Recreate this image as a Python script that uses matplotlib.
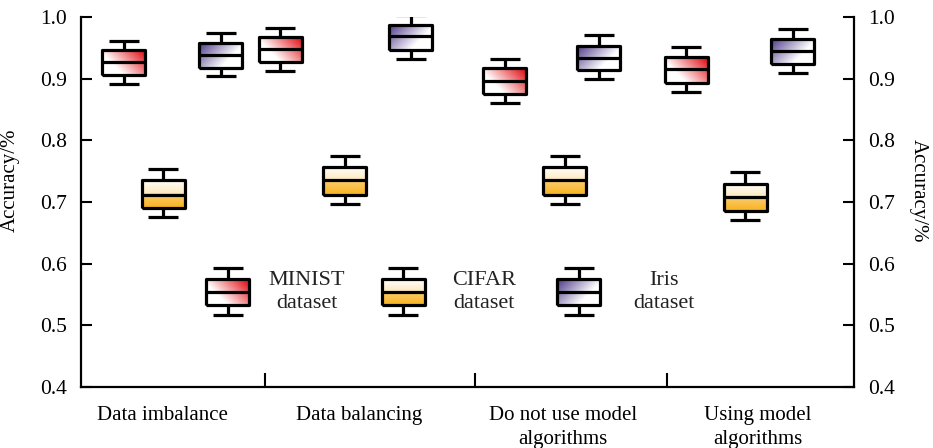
import numpy as np
import matplotlib.pyplot as plt
from matplotlib.colors import to_rgb

plt.rcParams['font.family'] = ['Liberation Serif', 'DejaVu Serif']
plt.rcParams['font.size'] = 15

categories = ['Data imbalance', 'Data balancing',
              'Do not use model\nalgorithms', 'Using model\nalgorithms']
series_names = ['MINIST\ndataset', 'CIFAR\ndataset', 'Iris\ndataset']

# lower whisker, Q1, median, Q3, upper whisker for each group
minist_stats = [[0.891, 0.906, 0.927, 0.947, 0.962],
                [0.913, 0.927, 0.948, 0.968, 0.983],
                [0.860, 0.875, 0.897, 0.917, 0.932],
                [0.878, 0.894, 0.916, 0.935, 0.951]]
cifar_stats = [[0.675, 0.690, 0.712, 0.736, 0.753],
               [0.696, 0.711, 0.735, 0.757, 0.774],
               [0.696, 0.711, 0.735, 0.757, 0.774],
               [0.670, 0.686, 0.708, 0.730, 0.748]]
iris_stats = [[0.904, 0.918, 0.939, 0.959, 0.975],
              [0.933, 0.947, 0.969, 0.988, 1.004],
              [0.899, 0.914, 0.934, 0.954, 0.971],
              [0.910, 0.924, 0.946, 0.965, 0.981]]

# layout (x axis runs 0..773)
minist_pos = [42.5, 199, 423.5, 605]
cifar_pos = [82, 263.5, 483.5, 664]
iris_pos = [139.5, 329.5, 517.5, 711.5]
group_edges = [184, 394, 586]
label_pos = [81, 278, 482, 677]
BOX_W = 43
CAP_W = 30

# key glyphs drawn inside the plot
key_x = [146.5, 322, 497.5]
key_text_x = [226, 403, 583]
key_stats = [0.517, 0.533, 0.554, 0.575, 0.592]

RED = to_rgb('#e3191f')
ORANGE = to_rgb('#f9b21e')
PURPLE = to_rgb('#5a4690')


def shade(rgb, fn, n=80):
    yy, xx = np.mgrid[0:1:n * 1j, 0:1:n * 1j]
    img = np.ones((n, n, 4))
    img[..., :3] = rgb
    img[..., 3] = np.clip(fn(xx, yy), 0, 1)
    return img


def red_fn(x, y):
    return 1.0 * x + 0.6 * y - 0.5


def purple_fn(x, y):
    return 1.0 * (1 - x) + 0.6 * y - 0.5


def orange_fn(x, y):
    upper = 0.3 * (1 - (y - 0.5) / 0.5)
    lower = 0.65 + 0.35 * (1 - y / 0.5)
    return np.where(y >= 0.5, upper, lower)


shades = [shade(RED, red_fn), shade(ORANGE, orange_fn), shade(PURPLE, purple_fn)]

line = dict(color='black', lw=2.3, solid_capstyle='butt')


def draw_box(ax, x, stats, img):
    lo, q1, med, q3, hi = stats
    ax.bxp([dict(whislo=lo, q1=q1, med=med, q3=q3, whishi=hi, fliers=[])],
           positions=[x], widths=BOX_W, capwidths=CAP_W, showfliers=False,
           manage_ticks=False, boxprops=line, whiskerprops=line,
           capprops=line, medianprops=line, zorder=3)
    ax.imshow(img, extent=(x - BOX_W / 2, x + BOX_W / 2, q1, q3),
              origin='lower', aspect='auto', interpolation='bilinear', zorder=2)


fig = plt.figure(figsize=(9.33, 4.48), dpi=100)
ax = fig.add_axes([81 / 933, 1 - 386.7 / 448, 773 / 933, 369.4 / 448])

for positions, stats, img in zip([minist_pos, cifar_pos, iris_pos],
                                 [minist_stats, cifar_stats, iris_stats], shades):
    for x, s in zip(positions, stats):
        draw_box(ax, x, s, img)

for x, tx, name, img in zip(key_x, key_text_x, series_names, shades):
    draw_box(ax, x, key_stats, img)
    ax.text(tx, key_stats[2], name, ha='center', va='center', linespacing=1.3,
            fontsize=16, color='#222222')

ax.set_xlim(0, 773)
ax.set_ylim(0.4, 1.0)

ax.spines['top'].set_visible(False)
for side in ['left', 'right', 'bottom']:
    ax.spines[side].set_linewidth(1.6)

ax.set_yticks(np.arange(0.4, 1.01, 0.1))
ax.set_yticklabels([f'{v:.1f}' for v in np.arange(0.4, 1.01, 0.1)])
ax.tick_params(axis='y', direction='in', length=8, width=1.5, pad=10,
               right=True, labelright=True, labelsize=15.5)

ax.set_xticks(group_edges)
ax.set_xticklabels([])
ax.tick_params(axis='x', which='major', direction='in', length=10, width=1.5)
ax.set_xticks(label_pos, minor=True)
ax.set_xticklabels(categories, minor=True, linespacing=1.35)
ax.tick_params(axis='x', which='minor', length=0, pad=14)

ax.set_ylabel('Accuracy/%')
ax.yaxis.set_label_coords(-0.079, 0.56)
ax.text(1.083, 0.53, 'Accuracy/%', rotation=270, ha='center', va='center',
        transform=ax.transAxes)

fig.savefig('out.png', dpi=100)
